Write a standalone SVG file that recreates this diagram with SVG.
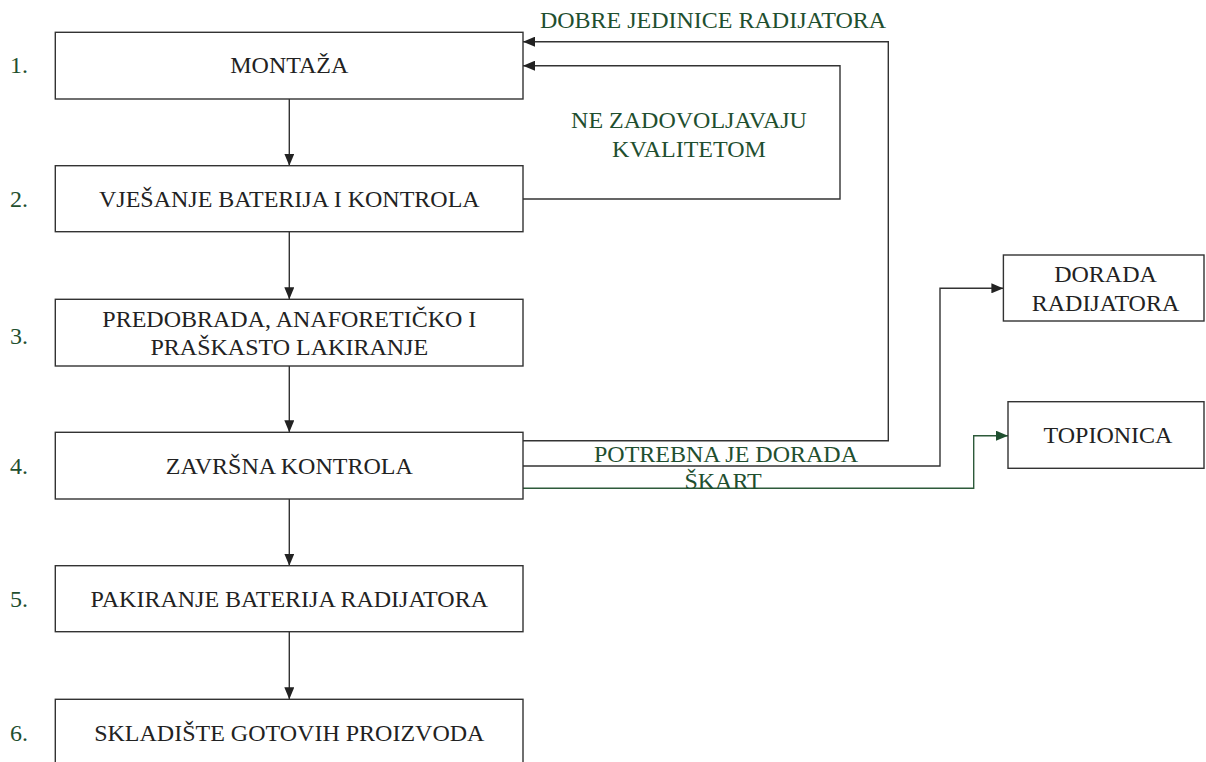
<svg xmlns="http://www.w3.org/2000/svg" width="1206" height="762" viewBox="0 0 1206 762">
<style>
.box{fill:#fff;stroke:#333;stroke-width:1.4}
text{font-family:'Liberation Serif','Times New Roman',Tinos,'DejaVu Serif',serif;font-size:24px}
.t{fill:#222;text-anchor:middle}
.g{fill:#1f4f2f;text-anchor:middle}
.n{fill:#1f4f2f}
.c{fill:none;stroke:#333;stroke-width:1.4}
.cg{fill:none;stroke:#2d5a3a;stroke-width:1.4}
</style>
<defs>
<marker id="ab" viewBox="0 0 12 10" refX="12" refY="5" markerWidth="12" markerHeight="10" markerUnits="userSpaceOnUse" orient="auto">
<path d="M0,0 L12,5 L0,10 Z" fill="#222"/>
</marker>
<marker id="ag" viewBox="0 0 12 10" refX="12" refY="5" markerWidth="12" markerHeight="10" markerUnits="userSpaceOnUse" orient="auto">
<path d="M0,0 L12,5 L0,10 Z" fill="#1f4f2f"/>
</marker>
</defs>
<rect width="1206" height="762" fill="#fff"/>

<g id="connectors">
<path class="c" d="M289.3,99 V165.7" marker-end="url(#ab)"/>
<path class="c" d="M289.3,231.7 V299.3" marker-end="url(#ab)"/>
<path class="c" d="M289.3,366 V432.3" marker-end="url(#ab)"/>
<path class="c" d="M289.3,499 V565.7" marker-end="url(#ab)"/>
<path class="c" d="M289.3,631.7 V699.3" marker-end="url(#ab)"/>
<path class="c" d="M523,440.7 H888.3 V41.7 H523" marker-end="url(#ab)"/>
<path class="c" d="M523,199 H840 V65.7 H523" marker-end="url(#ab)"/>
<path class="c" d="M523,466 H940 V288.3 H1003.4" marker-end="url(#ab)"/>
<path class="cg" d="M523,488.3 H973.7 V435.7 H1008" marker-end="url(#ag)"/>
</g>

<g id="labels">
<text class="g" x="713" y="27.5" font-family="Liberation Serif, serif">DOBRE JEDINICE RADIJATORA</text>
<text class="g" x="689" y="128" font-family="Liberation Serif, serif">NE ZADOVOLJAVAJU</text>
<text class="g" x="689" y="157" font-family="Liberation Serif, serif">KVALITETOM</text>
<text class="g" x="726" y="462" font-family="Liberation Serif, serif">POTREBNA JE DORADA</text>
<text class="g" x="723" y="489" font-family="Liberation Serif, serif">ŠKART</text>
</g>

<g id="n1">
<rect class="box" x="55.3" y="32.3" width="467.7" height="66.7"/>
<text class="t" x="289.3" y="73.3" font-family="Liberation Serif, serif">MONTAŽA</text>
<text class="n" x="10" y="73.3" font-family="Liberation Serif, serif">1.</text>
</g>
<g id="n2">
<rect class="box" x="55.3" y="165.7" width="467.7" height="66"/>
<text class="t" x="289.3" y="207" font-family="Liberation Serif, serif">VJEŠANJE BATERIJA I KONTROLA</text>
<text class="n" x="10" y="207" font-family="Liberation Serif, serif">2.</text>
</g>
<g id="n3">
<rect class="box" x="55.3" y="299.3" width="467.7" height="66.7"/>
<text class="t" x="289.3" y="326.5" font-family="Liberation Serif, serif">PREDOBRADA, ANAFORETIČKO I</text>
<text class="t" x="289.3" y="354.5" font-family="Liberation Serif, serif">PRAŠKASTO LAKIRANJE</text>
<text class="n" x="10" y="344" font-family="Liberation Serif, serif">3.</text>
</g>
<g id="n4">
<rect class="box" x="55.3" y="432.3" width="467.7" height="66.7"/>
<text class="t" x="289.3" y="473.5" font-family="Liberation Serif, serif">ZAVRŠNA KONTROLA</text>
<text class="n" x="10" y="473.5" font-family="Liberation Serif, serif">4.</text>
</g>
<g id="n5">
<rect class="box" x="55.3" y="565.7" width="467.7" height="66"/>
<text class="t" x="289.3" y="606.5" font-family="Liberation Serif, serif">PAKIRANJE BATERIJA RADIJATORA</text>
<text class="n" x="10" y="606.5" font-family="Liberation Serif, serif">5.</text>
</g>
<g id="n6">
<rect class="box" x="55.3" y="699.3" width="467.7" height="70"/>
<text class="t" x="289.3" y="740.5" font-family="Liberation Serif, serif">SKLADIŠTE GOTOVIH PROIZVODA</text>
<text class="n" x="10" y="740.5" font-family="Liberation Serif, serif">6.</text>
</g>
<g id="n7">
<rect class="box" x="1003.4" y="255" width="200.6" height="66"/>
<text class="t" x="1105.5" y="282" font-family="Liberation Serif, serif">DORADA</text>
<text class="t" x="1105.5" y="310.5" font-family="Liberation Serif, serif">RADIJATORA</text>
</g>
<g id="n8">
<rect class="box" x="1008" y="401.7" width="196" height="66.6"/>
<text class="t" x="1108" y="443" font-family="Liberation Serif, serif">TOPIONICA</text>
</g>
</svg>
